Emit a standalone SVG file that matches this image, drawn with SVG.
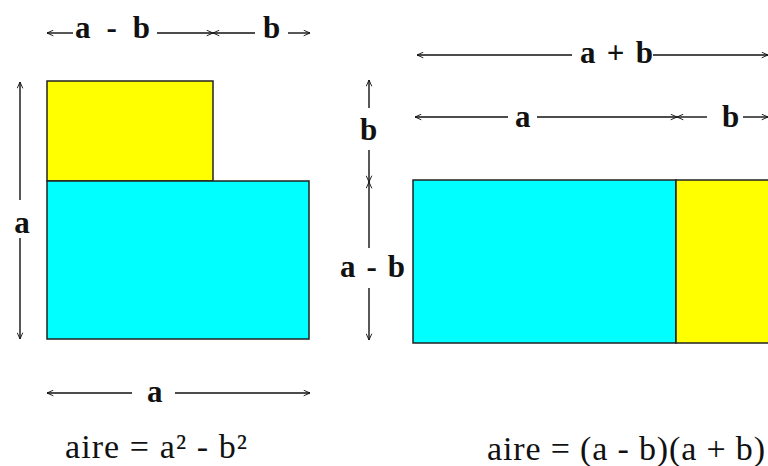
<svg xmlns="http://www.w3.org/2000/svg" width="768" height="466" viewBox="0 0 768 466">
<style>
.dim{stroke:#111;stroke-width:1.4;fill:none}
.box{stroke:#222;stroke-width:1.5}
</style>
<defs>
<marker id="ah" viewBox="0 0 10 10" refX="10" refY="5" markerWidth="7" markerHeight="7" markerUnits="userSpaceOnUse" orient="auto-start-reverse">
<path d="M1,1 L10,5 L1,9" fill="none" stroke="#111" stroke-width="1.3"/>
</marker>
</defs>
<rect width="768" height="466" fill="#fff"/>
<g id="left-yellow"><rect class="box" x="47" y="81" width="166" height="100" fill="#ffff00"/></g>
<g id="left-cyan"><rect class="box" x="47" y="181" width="262" height="158" fill="#00ffff"/></g>
<g id="right-cyan"><rect class="box" x="413" y="180" width="263" height="163" fill="#00ffff"/></g>
<g id="right-yellow"><rect class="box" x="676" y="180" width="95" height="163" fill="#ffff00"/></g>
<g id="connectors">
<line class="dim" x1="47" y1="33" x2="73" y2="33" marker-start="url(#ah)"/>
<line class="dim" x1="157" y1="33" x2="213" y2="33" marker-end="url(#ah)"/>
<line class="dim" x1="213" y1="33" x2="255" y2="33" marker-start="url(#ah)"/>
<line class="dim" x1="288" y1="33" x2="310" y2="33" marker-end="url(#ah)"/>
<line class="dim" x1="20" y1="82" x2="20" y2="200" marker-start="url(#ah)"/>
<line class="dim" x1="20" y1="238" x2="20" y2="339" marker-end="url(#ah)"/>
<line class="dim" x1="47" y1="393" x2="132" y2="393" marker-start="url(#ah)"/>
<line class="dim" x1="175" y1="393" x2="310" y2="393" marker-end="url(#ah)"/>
<line class="dim" x1="417" y1="55" x2="572" y2="55" marker-start="url(#ah)"/>
<line class="dim" x1="653" y1="55" x2="768" y2="55" marker-end="url(#ah)"/>
<line class="dim" x1="415" y1="117" x2="508" y2="117" marker-start="url(#ah)"/>
<line class="dim" x1="537" y1="117" x2="677" y2="117" marker-end="url(#ah)"/>
<line class="dim" x1="677" y1="117" x2="707" y2="117" marker-start="url(#ah)"/>
<line class="dim" x1="743" y1="117" x2="768" y2="117" marker-end="url(#ah)"/>
<line class="dim" x1="369" y1="80" x2="369" y2="108" marker-start="url(#ah)"/>
<line class="dim" x1="369" y1="150" x2="369" y2="182" marker-end="url(#ah)"/>
<line class="dim" x1="369" y1="182" x2="369" y2="248" marker-start="url(#ah)"/>
<line class="dim" x1="369" y1="288" x2="369" y2="340" marker-end="url(#ah)"/>
</g>
<g id="labels" font-family="'Liberation Serif', serif" font-weight="bold" font-size="31" fill="#111">
<text x="75" y="38" textLength="75" lengthAdjust="spacing">a - b</text>
<text x="263" y="38">b</text>
<text x="22" y="233" text-anchor="middle">a</text>
<text x="147" y="402">a</text>
<text x="580" y="63" textLength="73" lengthAdjust="spacing">a + b</text>
<text x="515" y="127">a</text>
<text x="722" y="127">b</text>
<text x="360" y="140">b</text>
<text x="340" y="277" textLength="65" lengthAdjust="spacing">a - b</text>
</g>
<g id="formulas" font-family="'Liberation Serif', serif" font-size="34" fill="#111">
<text x="65" y="458" textLength="182" lengthAdjust="spacing">aire = a² - b²</text>
<text x="487" y="460" textLength="278" lengthAdjust="spacing">aire = (a - b)(a + b)</text>
</g>
</svg>
